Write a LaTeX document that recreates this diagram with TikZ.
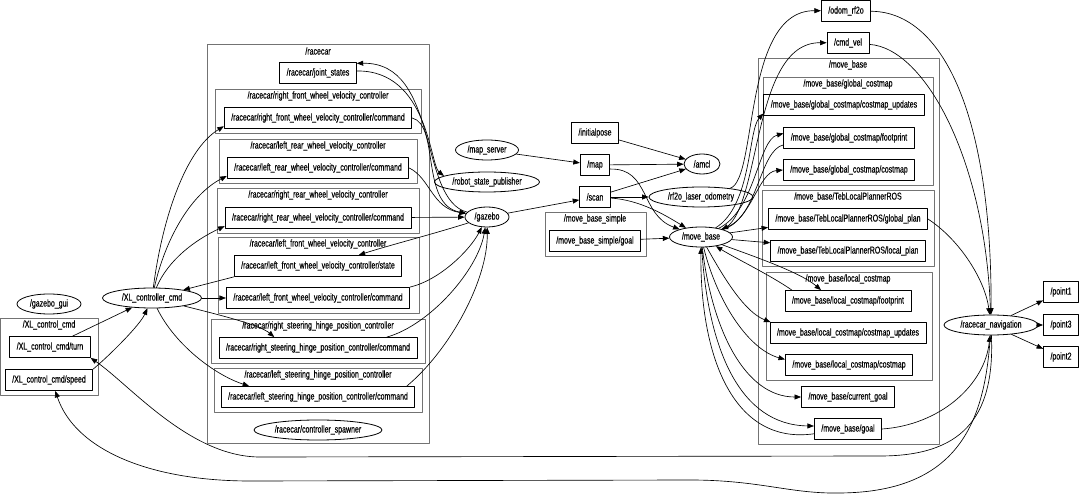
\documentclass[tikz,border=0pt]{standalone}
\usepackage{fontspec}
\setmainfont{Liberation Sans}[FakeStretch=0.7, FakeBold=0.35]
\usetikzlibrary{arrows.meta, shapes.geometric}
\tikzset{
  >={Triangle[length=6.5pt, width=5pt]},
  every picture/.style={line cap=round, line join=round, font=\fontsize{10}{12}\selectfont},
  topic/.style={draw, line width=0.8pt, inner xsep=7pt, inner ysep=0pt, minimum height=21pt},
  rosnode/.style={ellipse, draw, line width=0.8pt, inner sep=0pt, minimum height=20pt},
  cluster/.style={draw=black!55, line width=0.8pt},
  clabel/.style={inner sep=1pt},
  edge/.style={->, line width=0.65pt},
}

\begin{document}
\begin{tikzpicture}[x=1pt, y=-1pt]
  \useasboundingbox (0,0) rectangle (1080,494);
  % namespaces
  \draw[cluster] (0,318) rectangle (98,395);
  \node[clabel] (c-xl) at (49,325) {/XL\_control\_cmd};
  \draw[cluster] (207,44) rectangle (429,443);
  \node[clabel] (c-rc) at (318,51) {/racecar};
  \draw[cluster] (218,237) rectangle (419,313);
  \node[clabel] (c-lf) at (318,244) {/racecar/left\_front\_wheel\_velocity\_controller};
  \draw[cluster] (545,212) rectangle (646,256);
  \node[clabel] (c-mbs) at (595,219) {/move\_base\_simple};
  \draw[cluster] (758,58) rectangle (939,444);
  \node[clabel] (c-mb) at (848,65) {/move\_base};
  \draw[cluster] (763,77) rectangle (933,185);
  \node[clabel] (c-gc) at (848,84) {/move\_base/global\_costmap};
  \draw[cluster] (762,190) rectangle (934,266);
  \node[clabel] (c-teb) at (848,197) {/move\_base/TebLocalPlannerROS};
  \draw[cluster] (766,272) rectangle (932,380);
  \node[clabel] (c-lc) at (848,279) {/move\_base/local\_costmap};
  % racecar controllers, one box each
  \foreach \nm/\ctl/\xa/\ya/\xb/\yb in {
      rfcmd/right\_front\_wheel\_velocity\_controller/215/89/421/133,
      lrcmd/left\_rear\_wheel\_velocity\_controller/219/139/417/183,
      rrcmd/right\_rear\_wheel\_velocity\_controller/217/188/419/233,
      rscmd/right\_steering\_hinge\_position\_controller/211/319/425/363,
      lscmd/left\_steering\_hinge\_position\_controller/214/368/422/412}
  {
    \draw[cluster] (\xa,\ya) rectangle (\xb,\yb);
    \node[clabel] (c-\nm) at (318,\ya+7) {/racecar/\ctl};
    \node[topic] (\nm) at (318,\yb-15) {/racecar/\ctl/command};
  }

  % topics
  \node[topic] (xlturn) at (50,347) {/XL\_control\_cmd/turn};
  \node[topic] (xlspeed) at (49,380) {/XL\_control\_cmd/speed};
  \node[topic] (jstates) at (318,73) {/racecar/joint\_states};
  \node[topic] (lfstate) at (318,266) {/racecar/left\_front\_wheel\_velocity\_controller/state};
  \node[topic] (lfcmd) at (318,298) {/racecar/left\_front\_wheel\_velocity\_controller/command};
  \node[topic] (initpose) at (595,133) {/initialpose};
  \node[topic] (map) at (595,165) {/map};
  \node[topic] (scan) at (595,197) {/scan};
  \node[topic] (mbsgoal) at (595,241) {/move\_base\_simple/goal};
  \node[topic] (odom) at (846,11) {/odom\_rf2o};
  \node[topic] (cmdvel) at (848,43) {/cmd\_vel};
  \node[topic] (gcupd) at (844,105) {/move\_base/global\_costmap/costmap\_updates};
  \node[topic] (gcfoot) at (849,138) {/move\_base/global\_costmap/footprint};
  \node[topic] (gcmap) at (849,170) {/move\_base/global\_costmap/costmap};
  \node[topic] (gplan) at (848,219) {/move\_base/TebLocalPlannerROS/global\_plan};
  \node[topic] (lplan) at (848,251) {/move\_base/TebLocalPlannerROS/local\_plan};
  \node[topic] (lcfoot) at (848,301) {/move\_base/local\_costmap/footprint};
  \node[topic] (lcupd) at (848,333) {/move\_base/local\_costmap/costmap\_updates};
  \node[topic] (lcmap) at (849,365) {/move\_base/local\_costmap/costmap};
  \node[topic] (curgoal) at (848,397) {/move\_base/current\_goal};
  \node[topic] (mbgoal) at (848,429) {/move\_base/goal};
  \node[topic] (pt1) at (1061,292) {/point1};
  \node[topic] (pt3) at (1061,325) {/point3};
  \node[topic] (pt2) at (1061,357) {/point2};

  % ros nodes
  \node[rosnode, minimum width=64pt, label={center:/gazebo\_gui}] (gzgui) at (49,304) {};
  \node[rosnode, minimum width=99pt, label={center:/XL\_controller\_cmd}] (xlctl) at (152,298) {};
  \node[rosnode, minimum width=128pt, label={center:/racecar/controller\_spawner}] (spawner) at (318,430) {};
  \node[rosnode, minimum width=105pt, label={center:/robot\_state\_publisher}] (rsp) at (487,182) {};
  \node[rosnode, minimum width=44pt, label={center:/gazebo}] (gazebo) at (487,217) {};
  \node[rosnode, minimum width=63pt, label={center:/map\_server}] (mapsrv) at (487,150) {};
  \node[rosnode, minimum width=36pt, label={center:/amcl}] (amcl) at (702,164) {};
  \node[rosnode, minimum width=104pt, label={center:/rf2o\_laser\_odometry}] (rf2o) at (701,197) {};
  \node[rosnode, minimum width=63pt, label={center:/move\_base}] (movebase) at (701,237) {};
  \node[rosnode, minimum width=94pt, label={center:/racecar\_navigation}] (nav) at (991,325) {};

  % XL_controller_cmd
  \draw[edge] (xlturn) -- (xlctl);
  \draw[edge] (xlspeed.north east) .. controls (110,355) and (140,325) .. (xlctl);
  \draw[edge] (xlctl) .. controls (162,220) and (185,150) .. (rfcmd.185);
  \draw[edge] (xlctl) .. controls (165,240) and (190,195) .. (lrcmd.185);
  \draw[edge] (xlctl) .. controls (168,260) and (195,240) .. (rrcmd.185);
  \draw[edge] (xlctl) -- (lfcmd);
  \draw[edge] (xlctl) .. controls (220,315) and (260,325) .. (rscmd.166);
  \draw[edge] (xlctl) .. controls (175,345) and (215,375) .. (lscmd.171);
  \draw[edge] (lfstate.south west) -- (xlctl);
  % gazebo
  \draw[edge] (rfcmd.east) .. controls (440,125) and (420,205) .. (gazebo);
  \draw[edge] (lrcmd.east) .. controls (430,178) and (432,208) .. (gazebo);
  \draw[edge] (rrcmd) -- (gazebo);
  \draw[edge] (lfcmd.north east) .. controls (440,280) and (470,250) .. (gazebo);
  \draw[edge] (rscmd.9) .. controls (430,325) and (478,270) .. (gazebo);
  \draw[edge] (lscmd.7) .. controls (450,350) and (488,280) .. (gazebo);
  \draw[edge] (gazebo) .. controls (430,235) and (390,245) .. (lfstate.15);
  \draw[edge] (gazebo) .. controls (418,200) and (440,62) .. (jstates.14);
  \draw[edge] (jstates.3) .. controls (428,70) and (430,165) .. (rsp.172);
  \draw[edge] (gazebo) -- (scan);
  % map, scan
  \draw[edge] (mapsrv) -- (map);
  \draw[edge] (map) -- (amcl);
  \draw[edge] (map.-15) .. controls (650,168) and (640,215) .. (movebase);
  \draw[edge] (initpose) -- (amcl);
  \draw[edge] (scan) -- (amcl);
  \draw[edge] (scan) -- (rf2o);
  \draw[edge] (scan) .. controls (640,200) and (665,215) .. (movebase);
  \draw[edge] (mbsgoal) -- (movebase);
  % move_base
  \draw[edge] (rf2o) .. controls (758,180) and (742,10) .. (odom);
  \draw[edge] (movebase) .. controls (762,215) and (750,42) .. (cmdvel);
  \draw[edge] (gcfoot.186) .. controls (760,150) and (758,215) .. (movebase);
  \draw[edge] (movebase) .. controls (752,205) and (748,130) .. (gcupd.186);
  \draw[edge] (movebase) .. controls (756,210) and (758,140) .. (gcfoot.176);
  \draw[edge] (movebase) .. controls (752,220) and (758,172) .. (gcmap.west);
  \draw[edge] (movebase) -- (gplan.186);
  \draw[edge] (movebase) -- (lplan.174);
  \draw[edge] (movebase) .. controls (750,255) and (800,272) .. (lcfoot.158);
  \draw[edge] (lcfoot.169) .. controls (770,275) and (735,258) .. (movebase);
  \draw[edge] (movebase) .. controls (725,280) and (745,312) .. (lcupd.172);
  \draw[edge] (movebase) .. controls (718,305) and (750,350) .. (lcmap.175);
  \draw[edge] (movebase) .. controls (712,330) and (745,397) .. (curgoal.west);
  \draw[edge] (movebase) .. controls (708,350) and (740,425) .. (mbgoal.175);
  \draw[edge] (mbgoal.188) .. controls (735,445) and (700,360) .. (movebase);
  % racecar_navigation
  \draw[edge] (odom) .. controls (945,12) and (992,120) .. (nav);
  \draw[edge] (cmdvel) .. controls (925,48) and (985,160) .. (nav);
  \draw[edge] (gplan.east) .. controls (960,240) and (985,280) .. (nav);
  \draw[edge] (mbgoal.east) .. controls (940,425) and (985,385) .. (nav);
  \draw[edge] (nav) -- (pt1);
  \draw[edge] (nav) -- (pt3);
  \draw[edge] (nav) -- (pt2);
  \draw[edge] (nav) .. controls (995,420) and (960,456) .. (880,456) -- (260,457)
    .. controls (190,457) and (130,385) .. (xlturn.south east);
  \draw[edge] (nav) .. controls (985,420) and (960,492) .. (840,493)
    .. controls (790,494) and (760,480) .. (690,480) -- (250,481)
    .. controls (150,481) and (75,450) .. (xlspeed.-60);
\end{tikzpicture}
\end{document}
